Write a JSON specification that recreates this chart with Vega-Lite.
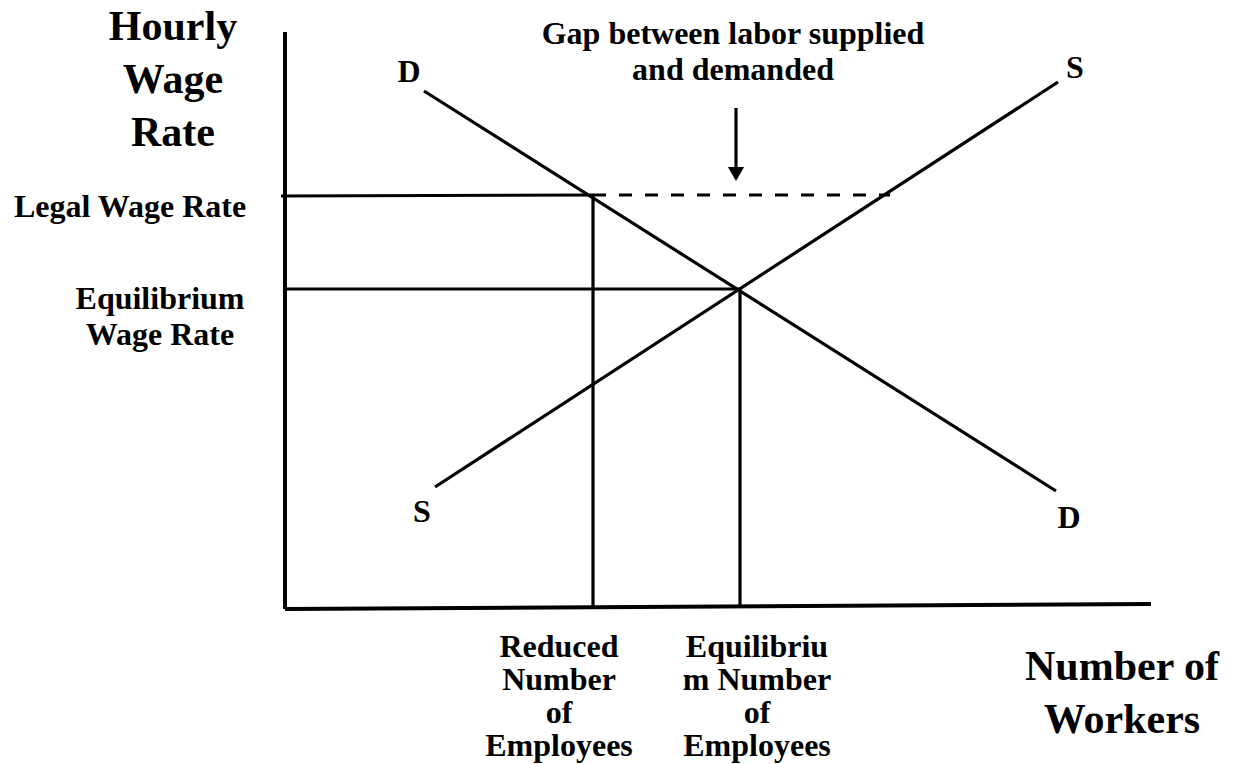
{
  "$schema": "https://vega.github.io/schema/vega-lite/v6.json",
  "width": 1233,
  "height": 764,
  "autosize": {"type": "none"},
  "padding": 0,
  "background": "white",
  "config": {"view": {"stroke": null}},
  "datasets": {
    "axes": [
      {"part": "wage axis", "x": 285, "y": 32, "x2": 285, "y2": 609},
      {"part": "workers axis", "x": 285, "y": 609, "x2": 1151, "y2": 604}
    ],
    "lines": [
      {"part": "demand", "x": 424, "y": 91, "x2": 1056, "y2": 491},
      {"part": "supply", "x": 435, "y": 487, "x2": 1058, "y2": 82},
      {"part": "legal wage", "x": 281, "y": 196, "x2": 593, "y2": 195},
      {"part": "equilibrium wage", "x": 285, "y": 289, "x2": 740, "y2": 289},
      {"part": "reduced employment", "x": 593, "y": 195, "x2": 593, "y2": 607},
      {"part": "equilibrium employment", "x": 740, "y": 289, "x2": 740, "y2": 606},
      {"part": "arrow shaft", "x": 736, "y": 108, "x2": 736, "y2": 168}
    ],
    "gap": [
      {"part": "gap", "x": 593, "y": 195, "x2": 890, "y2": 195}
    ],
    "arrowhead": [
      {"part": "arrow tip", "x": 736, "y": 174}
    ],
    "bigText": [
      {"label": "Hourly\nWage\nRate", "x": 173, "y": 40},
      {"label": "Number of\nWorkers", "x": 1122, "y": 680}
    ],
    "text": [
      {"label": "Legal Wage Rate", "x": 130, "y": 217},
      {"label": "Equilibrium\nWage Rate", "x": 160, "y": 309},
      {"label": "Gap between labor supplied\nand demanded", "x": 733, "y": 44},
      {"label": "D", "x": 409, "y": 82},
      {"label": "S", "x": 1075, "y": 78},
      {"label": "S", "x": 422, "y": 522},
      {"label": "D", "x": 1069, "y": 528}
    ],
    "bottomText": [
      {"label": "Reduced\nNumber\nof\nEmployees", "x": 559, "y": 657},
      {"label": "Equilibriu\nm Number\nof\nEmployees", "x": 757, "y": 657}
    ]
  },
  "layer": [
    {
      "data": {"name": "axes"},
      "mark": {"type": "rule", "color": "black", "strokeWidth": 4},
      "encoding": {
        "x": {"field": "x", "type": "quantitative", "scale": {"domain": [0, 1233], "nice": false, "zero": false}, "axis": null},
        "y": {"field": "y", "type": "quantitative", "scale": {"domain": [0, 764], "nice": false, "zero": false, "reverse": true}, "axis": null},
        "x2": {"field": "x2"},
        "y2": {"field": "y2"}
      }
    },
    {
      "data": {"name": "lines"},
      "mark": {"type": "rule", "color": "black", "strokeWidth": 3.2},
      "encoding": {
        "x": {"field": "x", "type": "quantitative", "scale": {"domain": [0, 1233], "nice": false, "zero": false}, "axis": null},
        "y": {"field": "y", "type": "quantitative", "scale": {"domain": [0, 764], "nice": false, "zero": false, "reverse": true}, "axis": null},
        "x2": {"field": "x2"},
        "y2": {"field": "y2"}
      }
    },
    {
      "data": {"name": "gap"},
      "mark": {"type": "rule", "color": "black", "strokeWidth": 3.2, "strokeDash": [13, 13]},
      "encoding": {
        "x": {"field": "x", "type": "quantitative", "scale": {"domain": [0, 1233], "nice": false, "zero": false}, "axis": null},
        "y": {"field": "y", "type": "quantitative", "scale": {"domain": [0, 764], "nice": false, "zero": false, "reverse": true}, "axis": null},
        "x2": {"field": "x2"},
        "y2": {"field": "y2"}
      }
    },
    {
      "data": {"name": "arrowhead"},
      "mark": {"type": "point", "shape": "triangle-down", "filled": true, "color": "black", "opacity": 1, "size": 260},
      "encoding": {
        "x": {"field": "x", "type": "quantitative", "scale": {"domain": [0, 1233], "nice": false, "zero": false}, "axis": null},
        "y": {"field": "y", "type": "quantitative", "scale": {"domain": [0, 764], "nice": false, "zero": false, "reverse": true}, "axis": null}
      }
    },
    {
      "data": {"name": "bigText"},
      "mark": {"type": "text", "font": "Liberation Serif", "fontWeight": "bold", "fontSize": 42, "lineHeight": 53, "lineBreak": "\n", "align": "center", "baseline": "alphabetic", "color": "black"},
      "encoding": {
        "x": {"field": "x", "type": "quantitative", "scale": {"domain": [0, 1233], "nice": false, "zero": false}, "axis": null},
        "y": {"field": "y", "type": "quantitative", "scale": {"domain": [0, 764], "nice": false, "zero": false, "reverse": true}, "axis": null},
        "text": {"field": "label"}
      }
    },
    {
      "data": {"name": "text"},
      "mark": {"type": "text", "font": "Liberation Serif", "fontWeight": "bold", "fontSize": 32, "lineHeight": 36, "lineBreak": "\n", "align": "center", "baseline": "alphabetic", "color": "black"},
      "encoding": {
        "x": {"field": "x", "type": "quantitative", "scale": {"domain": [0, 1233], "nice": false, "zero": false}, "axis": null},
        "y": {"field": "y", "type": "quantitative", "scale": {"domain": [0, 764], "nice": false, "zero": false, "reverse": true}, "axis": null},
        "text": {"field": "label"}
      }
    },
    {
      "data": {"name": "bottomText"},
      "mark": {"type": "text", "font": "Liberation Serif", "fontWeight": "bold", "fontSize": 32, "lineHeight": 33, "lineBreak": "\n", "align": "center", "baseline": "alphabetic", "color": "black"},
      "encoding": {
        "x": {"field": "x", "type": "quantitative", "scale": {"domain": [0, 1233], "nice": false, "zero": false}, "axis": null},
        "y": {"field": "y", "type": "quantitative", "scale": {"domain": [0, 764], "nice": false, "zero": false, "reverse": true}, "axis": null},
        "text": {"field": "label"}
      }
    }
  ]
}
